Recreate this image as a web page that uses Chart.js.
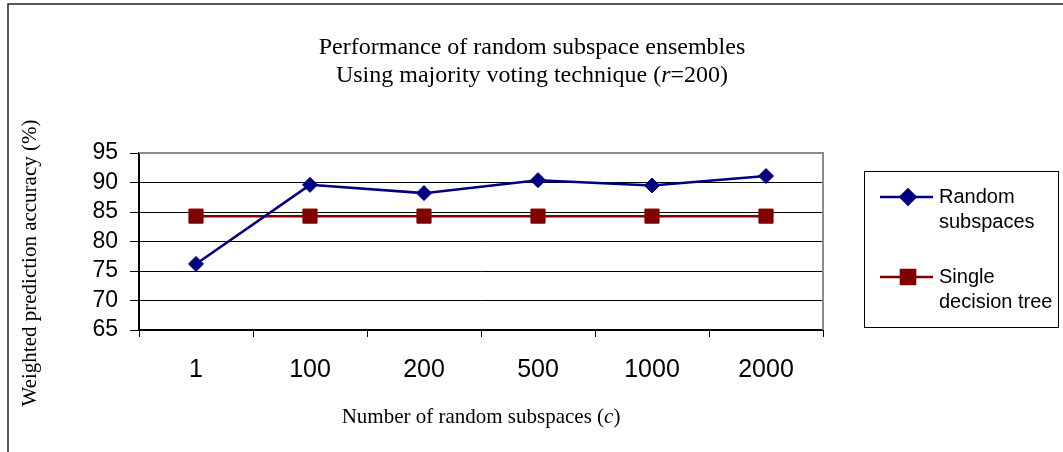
<!DOCTYPE html>
<html>
<head>
<meta charset="utf-8">
<script src="https://cdn.jsdelivr.net/npm/chart.js@4.4.1/dist/chart.umd.min.js"></script>
<style>
  html, body { margin: 0; padding: 0; background: #fff; }
  #wrap { position: relative; width: 1063px; height: 452px; }
</style>
</head>
<body>
<div id="wrap"><canvas id="c" width="1063" height="452"></canvas></div>
<script>
// Ensemble size categories
const subspaceCounts = ['1', '100', '200', '500', '1000', '2000'];
// Weighted prediction accuracy (%)
const randomSubspaces = [76.2, 89.6, 88.2, 90.4, 89.5, 91.1];
const singleDecisionTree = [84.3, 84.3, 84.3, 84.3, 84.3, 84.3];
// Y axis range and step
const yMin = 65, yMax = 95, yStep = 5;

const titleLines = [
  [{ t: 'Performance of random subspace ensembles', i: false }],
  [{ t: 'Using majority voting technique (', i: false }, { t: 'r', i: true }, { t: '=200)', i: false }]
];
const xTitle = [{ t: 'Number of random subspaces (', i: false }, { t: 'c', i: true }, { t: ')', i: false }];
const yTitle = [{ t: 'Weighted prediction accuracy (%)', i: false }];
const legendLabels = [['Random', 'subspaces'], ['Single', 'decision tree']];

const SERIF = '"Liberation Serif", "Times New Roman", serif';
const SANS = '"Liberation Sans", Arial, sans-serif';

function drawRich(ctx, segs, cx, cy, size) {
  const fontOf = s => (s.i ? 'italic ' : '') + size + 'px ' + SERIF;
  let total = 0;
  segs.forEach(s => { ctx.font = fontOf(s); total += ctx.measureText(s.t).width; });
  let x = cx - total / 2;
  ctx.textAlign = 'left';
  ctx.textBaseline = 'middle';
  segs.forEach(s => {
    ctx.font = fontOf(s);
    ctx.fillText(s.t, x, cy);
    x += ctx.measureText(s.t).width;
  });
}

const decorations = {
  id: 'decorations',
  beforeDraw(chart) {
    const ctx = chart.ctx;
    ctx.save();
    ctx.fillStyle = '#fff';
    ctx.fillRect(0, 0, chart.width, chart.height);
    // outer frame
    ctx.strokeStyle = '#222';
    ctx.lineWidth = 1.5;
    ctx.beginPath();
    ctx.moveTo(8, chart.height + 5);
    ctx.lineTo(8, 4);
    ctx.lineTo(chart.width + 5, 4);
    ctx.stroke();
    ctx.restore();
  },
  afterDraw(chart) {
    const ctx = chart.ctx;
    const a = chart.chartArea;
    ctx.save();
    // grey plot border on top and right
    ctx.strokeStyle = '#8c8c8c';
    ctx.lineWidth = 2;
    ctx.beginPath();
    ctx.moveTo(a.left, a.top);
    ctx.lineTo(a.right, a.top);
    ctx.lineTo(a.right, a.bottom);
    ctx.stroke();

    // titles
    ctx.fillStyle = '#000';
    drawRich(ctx, titleLines[0], 532, 48, 24);
    drawRich(ctx, titleLines[1], 532, 76, 24);
    drawRich(ctx, xTitle, (a.left + a.right) / 2, 417, 21);
    ctx.save();
    ctx.translate(30, 263);
    ctx.rotate(-Math.PI / 2);
    drawRich(ctx, yTitle, 0, 0, 21);
    ctx.restore();

    // legend
    ctx.strokeStyle = '#000';
    ctx.lineWidth = 1;
    ctx.strokeRect(864.5, 171.5, 194, 156);
    const rows = [197, 277];
    chart.data.datasets.forEach((ds, k) => {
      const y = rows[k];
      ctx.strokeStyle = ds.borderColor;
      ctx.lineWidth = 2.5;
      ctx.beginPath();
      ctx.moveTo(880, y);
      ctx.lineTo(933, y);
      ctx.stroke();
      Chart.helpers.drawPoint(ctx, {
        pointStyle: ds.pointStyle,
        radius: ds.pointRadius,
        borderWidth: 1,
        rotation: 0
      }, 908, y);
      ctx.fillStyle = ds.pointBackgroundColor;
      ctx.fill();
      ctx.fillStyle = '#000';
      ctx.font = '20px ' + SANS;
      ctx.textAlign = 'left';
      ctx.textBaseline = 'middle';
      ctx.fillText(legendLabels[k][0], 939, y);
      ctx.fillText(legendLabels[k][1], 939, y + 25);
    });
    ctx.restore();
  }
};

new Chart(document.getElementById('c'), {
  type: 'line',
  data: {
    labels: subspaceCounts,
    datasets: [
      {
        label: 'Random subspaces',
        data: randomSubspaces,
        borderColor: '#000080',
        backgroundColor: '#000080',
        pointBackgroundColor: '#000080',
        pointBorderColor: '#000080',
        borderWidth: 2.5,
        pointStyle: 'rectRot',
        pointRadius: 7.5,
        pointBorderWidth: 1,
        tension: 0
      },
      {
        label: 'Single decision tree',
        data: singleDecisionTree,
        borderColor: '#800000',
        backgroundColor: '#800000',
        pointBackgroundColor: '#800000',
        pointBorderColor: '#800000',
        borderWidth: 2.5,
        pointStyle: 'rect',
        pointRadius: 10,
        pointBorderWidth: 1,
        tension: 0
      }
    ]
  },
  options: {
    responsive: false,
    animation: false,
    devicePixelRatio: 1,
    layout: { padding: { top: 153, right: 240, bottom: 0, left: 0 } },
    plugins: { legend: { display: false }, title: { display: false }, tooltip: { enabled: false } },
    scales: {
      x: {
        type: 'category',
        offset: true,
        afterFit(s) { s.height = 122; },
        grid: { offset: true, drawOnChartArea: false, color: '#000', tickLength: 7, lineWidth: 1 },
        border: { color: '#000', width: 2 },
        ticks: { color: '#000', font: { family: SANS, size: 25 }, padding: 18, maxRotation: 0, autoSkip: false }
      },
      y: {
        min: yMin,
        max: yMax,
        afterFit(s) { s.width = 139; },
        grid: { color: '#000', tickLength: 9, lineWidth: 1 },
        border: { color: '#000', width: 2 },
        ticks: { stepSize: yStep, color: '#000', font: { family: SANS, size: 23 }, padding: 12, autoSkip: false }
      }
    }
  },
  plugins: [decorations]
});
</script>
</body>
</html>
